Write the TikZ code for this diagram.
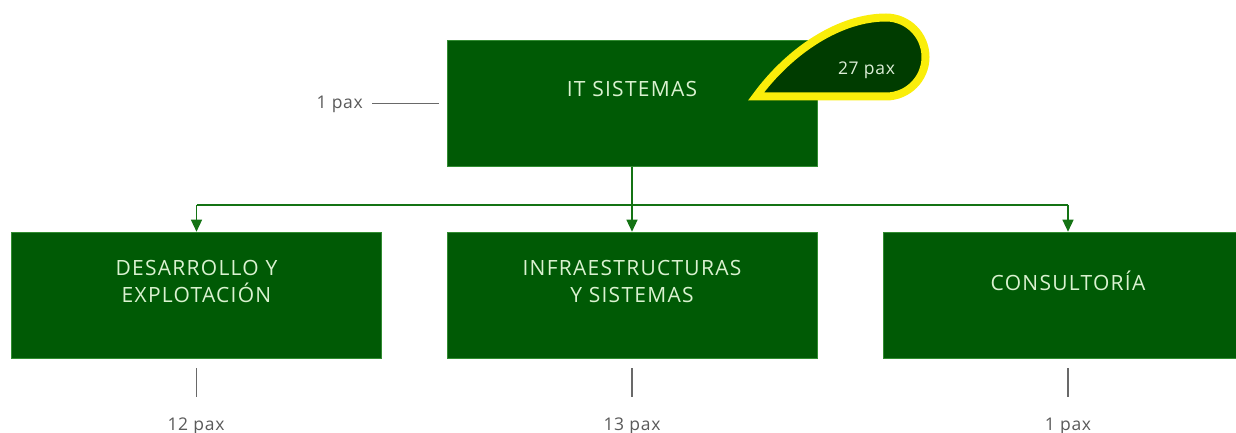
\documentclass[tikz,border=0pt]{standalone}
\usepackage{fontspec}
\setmainfont{Open Sans}
\newfontfamily\boxfont{Open Sans}[LetterSpace=6]
\newfontfamily\paxfont{Open Sans}[LetterSpace=4]
\usetikzlibrary{arrows.meta}
\definecolor{boxgreen}{RGB}{0,90,5}
\definecolor{boxedge}{RGB}{50,140,50}
\definecolor{boxtextcol}{RGB}{218,242,208}
\definecolor{darkfill}{RGB}{0,60,0}
\definecolor{tearyellow}{RGB}{250,238,10}
\definecolor{conngreen}{RGB}{20,115,20}
\definecolor{paxgrey}{RGB}{90,90,90}
\definecolor{paxlinecol}{RGB}{105,105,105}
\definecolor{paxlight}{RGB}{220,238,215}
\tikzset{
  box/.style={draw=boxedge, line width=0.6pt, fill=boxgreen, minimum width=370pt, minimum height=126pt, inner sep=0pt},
  boxtext/.style={text=boxtextcol, font=\boxfont\fontsize{21}{27}\selectfont, align=center, inner sep=0pt},
  conn/.style={draw=conngreen, line width=1.4pt},
  arr/.style={conn, -{Triangle[length=12pt,width=11pt]}},
  paxtext/.style={text=paxgrey, font=\paxfont\fontsize{17.5}{20}\selectfont, inner sep=0pt},
  paxline/.style={draw=paxlinecol, line width=1.2pt},
}
\begin{document}
\begin{tikzpicture}[x=1pt,y=-1pt]
\useasboundingbox (0,0) rectangle (1236,433);
% boxes
\node[box] (it) at (632,103.5) {};
\node[boxtext, anchor=base] (ittxt) at (632,97) {IT SISTEMAS};
\node[box] (des) at (196.5,295) {};
\node[boxtext, anchor=north] (destxt) at (196.5,260) {DESARROLLO Y\\EXPLOTACIÓN};
\node[box] (inf) at (632,295) {};
\node[boxtext, anchor=north] (inftxt) at (632,260) {INFRAESTRUCTURAS\\Y SISTEMAS};
\node[box] (con) at (1068,295) {};
\node[boxtext, anchor=base] (contxt) at (1068,290) {CONSULTORÍA};
% teardrop
\path[draw=tearyellow, line width=8pt, fill=darkfill, line join=miter, miter limit=20]
  (756,96.5) -- (886,96.5)
  .. controls (907.8,96.5) and (925.5,78.8) .. (925.5,57)
  .. controls (925.5,35.2) and (907.8,17.5) .. (886,17.5)
  .. controls (840,17.5) and (790,50) .. (756,96.5) -- cycle;
\node[text=paxlight, font=\paxfont\fontsize{17.5}{20}\selectfont, inner sep=0pt, anchor=base] (teartxt) at (866.5,75) {27 pax};
% connectors
\coordinate (bus) at (632,205);
\draw[arr] (it.south) -- (inf.north);
\draw[conn] (des.north |- bus) -- (con.north |- bus);
\draw[arr] (des.north |- bus) -- (des.north);
\draw[arr] (con.north |- bus) -- (con.north);
% pax labels
\node[paxtext, anchor=base east] (paxit) at (363,109) {1 pax};
\draw[paxline] ([xshift=9pt]paxit.east |- it.west) -- ([xshift=-8pt]it.west);
\node[paxtext, anchor=base] (paxdes) at (196,430) {12 pax};
\node[paxtext, anchor=base] (paxinf) at (632,430) {13 pax};
\node[paxtext, anchor=base] (paxcon) at (1068,430) {1 pax};
\draw[paxline] ([yshift=-10pt]des.south) -- ([yshift=-39pt]des.south);
\draw[paxline] ([yshift=-10pt]inf.south) -- ([yshift=-39pt]inf.south);
\draw[paxline] ([yshift=-10pt]con.south) -- ([yshift=-39pt]con.south);
\end{tikzpicture}
\end{document}
